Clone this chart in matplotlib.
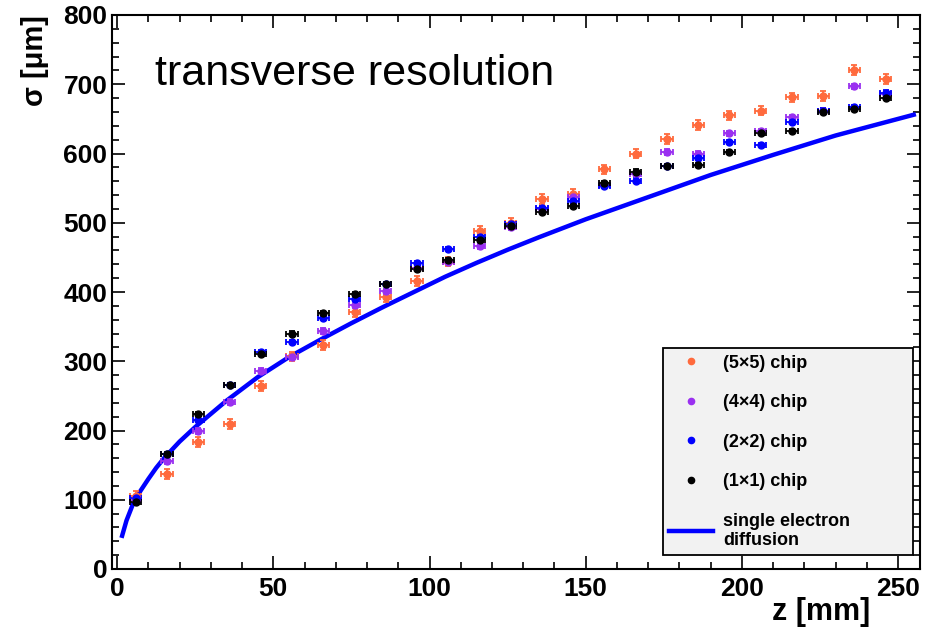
import numpy as np
import matplotlib
matplotlib.use("Agg")
import matplotlib.pyplot as plt
from matplotlib.lines import Line2D
from matplotlib.ticker import MultipleLocator

plt.rcParams['font.family'] = ['Liberation Sans', 'DejaVu Sans']

# drift distance of the measured points [mm]
z = [6, 16, 26, 36, 46, 56, 66, 76, 86, 96, 106, 116, 126,
     136, 146, 156, 166, 176, 186, 196, 206, 216, 226, 236, 246]

# transverse resolution [um] per chip grouping
sig_5x5 = [105, 137, 183, 209, 264, 307, 323, 371, 393, 416, 444, 488, 500,
           534, 542, 577, 600, 621, 641, 655, 662, 681, 683, 721, 708]
sig_4x4 = [100, 156, 199, 241, 286, 306, 344, 381, 401, 434, 444, 466, 494,
           520, 537, 555, 571, 602, 600, 629, 632, 652, 662, 697, 686]
sig_2x2 = [102, 166, 215, 266, 313, 328, 362, 390, 412, 442, 462, 479, 498,
           521, 531, 553, 561, 582, 593, 616, 612, 646, 662, 667, 688]
sig_1x1 = [97, 166, 224, 266, 310, 340, 369, 397, 412, 433, 446, 475, 496,
           515, 524, 557, 574, 582, 584, 602, 630, 633, 660, 664, 680]

# single electron diffusion curve
z_diff = [1.6, 3, 5, 7.5, 10, 12.5, 15, 20, 25, 35, 45, 55, 65, 75, 85, 95,
          105, 115, 125, 135, 150, 170, 190, 210, 230, 255]
sig_diff = [48, 70, 93, 113, 130, 146, 160, 184, 205, 243, 277, 306, 331,
            355, 378, 400, 422, 442, 461, 479, 505, 537, 569, 598, 626, 656]

series = [
    ("(5\u00d75) chip", sig_5x5, "#ff6a3d", 7),
    ("(4\u00d74) chip", sig_4x4, "#9a30f0", 4),
    ("(2\u00d72) chip", sig_2x2, "#0000ff", 3),
    ("(1\u00d71) chip", sig_1x1, "#000000", 3),
]

fig = plt.figure(figsize=(9.26, 6.34), dpi=100)
ax = fig.add_axes([111.5 / 926, 65 / 634, 808.5 / 926, 554 / 634])

ax.plot(z_diff, sig_diff, color="#0000ff", lw=3.2, zorder=2)

handles = []
for label, sig, col, ye in series:
    ax.errorbar(z, sig, xerr=1.8, yerr=ye, fmt='o', ms=5, color=col,
                ecolor=col, elinewidth=1.3, capsize=2.5, capthick=1.3, zorder=3)
    handles.append(Line2D([], [], marker='o', ls='', color=col, ms=4.5, label=label))
handles.append(Line2D([], [], color="#0000ff", lw=3.2,
                      label="single electron\ndiffusion"))

ax.set_xlim(-1.8, 257)
ax.set_ylim(0, 800)
ax.xaxis.set_major_locator(MultipleLocator(50))
ax.xaxis.set_minor_locator(MultipleLocator(10))
ax.yaxis.set_major_locator(MultipleLocator(100))
ax.yaxis.set_minor_locator(MultipleLocator(20))
ax.tick_params(which='both', direction='in', top=True, right=True, width=1.2)
ax.tick_params(which='major', length=9.5)
ax.tick_params(which='minor', length=5)
ax.tick_params(axis='x', pad=6)
ax.tick_params(axis='y', pad=3)
for lab in ax.get_xticklabels() + ax.get_yticklabels():
    lab.set_fontsize(19)
    lab.set_fontweight('bold')
for sp in ax.spines.values():
    sp.set_linewidth(1.5)

leg = ax.legend(handles=handles, loc='lower left',
                bbox_to_anchor=(0.682, 0.025, 0.309, 0.37), mode='expand',
                prop={'weight': 'bold', 'size': 13},
                frameon=True, fancybox=False, framealpha=1,
                facecolor='#f2f2f2', edgecolor='black',
                handlelength=2.45, handletextpad=0.55, labelspacing=1.25,
                borderpad=0.35, borderaxespad=0)
leg.get_frame().set_linewidth(1.3)
for t in leg.get_texts():
    t.set_linespacing(1.15)

fig.text(155 / 926, (634 - 85) / 634, "transverse resolution", fontsize=31,
         ha='left', va='baseline')
fig.text(870 / 926, (634 - 612) / 634, "z [mm]", fontsize=22, fontweight='bold',
         ha='right', va='center')
fig.text(35 / 926, (634 - 15) / 634, "\u03c3 [\u03bcm]", fontsize=21, fontweight='bold',
         rotation=90, ha='center', va='top')

fig.savefig("out.png", dpi=100)
